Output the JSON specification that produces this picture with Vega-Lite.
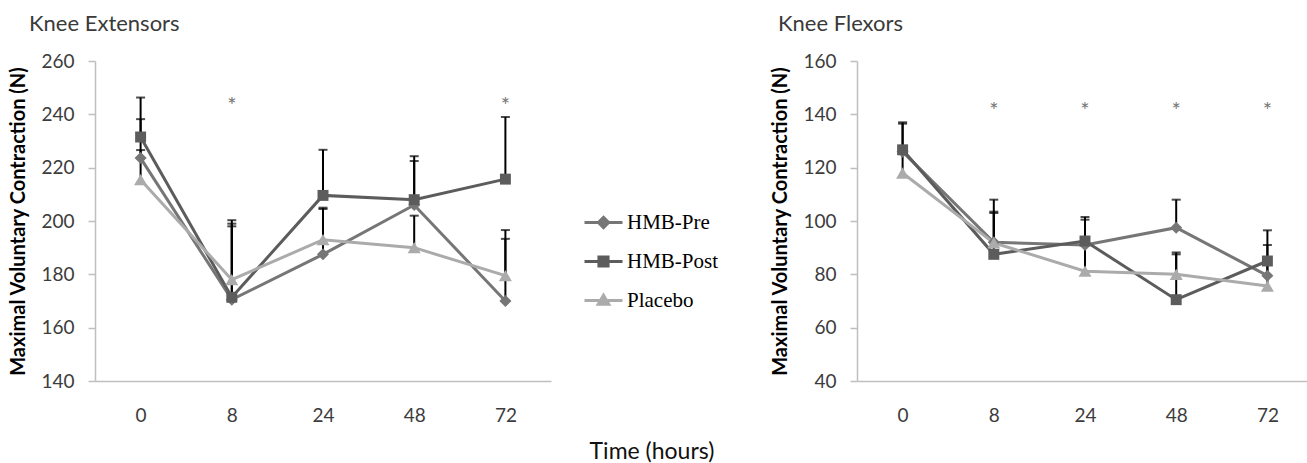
{
  "$schema": "https://vega.github.io/schema/vega-lite/v6.json",
  "padding": {"left": 8, "top": 13, "right": 0, "bottom": 0},
  "background": "white",
  "datasets": {
    "ext": [
      {"series": "HMB-Pre", "hours": 0, "value": 223.6, "upper": 238.2},
      {"series": "HMB-Pre", "hours": 8, "value": 170.5, "upper": 199},
      {"series": "HMB-Pre", "hours": 24, "value": 187.5, "upper": 205},
      {"series": "HMB-Pre", "hours": 48, "value": 206, "upper": 222.5},
      {"series": "HMB-Pre", "hours": 72, "value": 170, "upper": 193.3},
      {"series": "HMB-Post", "hours": 0, "value": 231.5, "upper": 246.3},
      {"series": "HMB-Post", "hours": 8, "value": 171.4, "upper": 200.3},
      {"series": "HMB-Post", "hours": 24, "value": 209.6, "upper": 226.7},
      {"series": "HMB-Post", "hours": 48, "value": 208, "upper": 224.3},
      {"series": "HMB-Post", "hours": 72, "value": 215.7, "upper": 239},
      {"series": "Placebo", "hours": 0, "value": 215.5, "upper": 226.6},
      {"series": "Placebo", "hours": 8, "value": 178, "upper": 198},
      {"series": "Placebo", "hours": 24, "value": 193, "upper": 204.5},
      {"series": "Placebo", "hours": 48, "value": 190, "upper": 202},
      {"series": "Placebo", "hours": 72, "value": 179.5, "upper": 196.6}
    ],
    "flex": [
      {"series": "HMB-Pre", "hours": 0, "value": 126, "upper": 136.5},
      {"series": "HMB-Pre", "hours": 8, "value": 92, "upper": 108},
      {"series": "HMB-Pre", "hours": 24, "value": 91, "upper": 100.5},
      {"series": "HMB-Pre", "hours": 48, "value": 97.5, "upper": 108},
      {"series": "HMB-Pre", "hours": 72, "value": 79.5, "upper": 91},
      {"series": "HMB-Post", "hours": 0, "value": 126.7, "upper": 137},
      {"series": "HMB-Post", "hours": 8, "value": 87.5, "upper": 103.5},
      {"series": "HMB-Post", "hours": 24, "value": 92.5, "upper": 101.5},
      {"series": "HMB-Post", "hours": 48, "value": 70.5, "upper": 88.2},
      {"series": "HMB-Post", "hours": 72, "value": 85, "upper": 96.5},
      {"series": "Placebo", "hours": 0, "value": 118, "upper": 128},
      {"series": "Placebo", "hours": 8, "value": 91.8, "upper": 103},
      {"series": "Placebo", "hours": 24, "value": 81.2, "upper": 91},
      {"series": "Placebo", "hours": 48, "value": 80, "upper": 87.5},
      {"series": "Placebo", "hours": 72, "value": 75.6, "upper": 86}
    ],
    "starsExt": [
      {"hours": 8, "y": 245.8, "label": "*"},
      {"hours": 72, "y": 245.8, "label": "*"}
    ],
    "starsFlex": [
      {"hours": 8, "y": 143.8, "label": "*"},
      {"hours": 24, "y": 143.8, "label": "*"},
      {"hours": 48, "y": 143.8, "label": "*"},
      {"hours": 72, "y": 143.8, "label": "*"}
    ]
  },
  "title": {
    "text": "Time (hours)",
    "orient": "bottom",
    "anchor": "middle",
    "font": "Lato",
    "fontSize": 23,
    "fontWeight": "normal",
    "color": "#111111",
    "offset": 16,
    "dx": -9
  },
  "config": {
    "view": {"stroke": null},
    "axis": {
      "domainColor": "#bfbfbf",
      "tickColor": "#bfbfbf",
      "domainWidth": 1.5,
      "tickWidth": 1.5,
      "labelFont": "Lato",
      "labelFontSize": 19,
      "labelColor": "#3c3c3c",
      "grid": false,
      "titleFont": "Lato",
      "titleFontWeight": "bold",
      "titleFontSize": 20,
      "titleColor": "#000000"
    },
    "title": {"font": "Lato", "fontSize": 22, "fontWeight": "normal", "color": "#3a3a3a"}
  },
  "resolve": {"scale": {"color": "independent", "shape": "independent", "size": "independent"}},
  "bounds": "flush",
  "spacing": 306,
  "hconcat": [
    {
      "width": 456,
      "height": 320,
      "title": {"text": "Knee Extensors", "anchor": "start", "frame": "group", "dx": -66, "offset": 16},
      "layer": [
        {
          "data": {"name": "ext"},
          "mark": {"type": "rule", "color": "#000000", "strokeWidth": 2},
          "encoding": {
            "x": {"field": "hours", "type": "ordinal", "scale": {"type": "point", "padding": 0.5}, "axis": {"title": null, "ticks": false, "labelPadding": 25, "labelAngle": 0}},
            "y": {"field": "value", "type": "quantitative", "scale": {"domain": [140, 260], "nice": false}, "axis": {"values": [140, 160, 180, 200, 220, 240, 260], "title": "Maximal Voluntary Contraction (N)", "tickSize": 7, "labelPadding": 14, "titlePadding": 12}},
            "y2": {"field": "upper"}
          }
        },
        {
          "data": {"name": "ext"},
          "mark": {"type": "tick", "color": "#000000", "size": 9, "thickness": 2, "orient": "horizontal"},
          "encoding": {
            "x": {"field": "hours", "type": "ordinal"},
            "y": {"field": "upper", "type": "quantitative"}
          }
        },
        {
          "data": {"name": "ext"},
          "mark": {"type": "line", "strokeWidth": 3},
          "encoding": {
            "x": {"field": "hours", "type": "ordinal"},
            "y": {"field": "value", "type": "quantitative"},
            "color": {"field": "series", "type": "nominal", "scale": {"domain": ["HMB-Pre", "HMB-Post", "Placebo"], "range": ["#767676", "#5c5c5c", "#ababab"]}}
          }
        },
        {
          "data": {"name": "ext"},
          "mark": {"type": "point", "filled": true, "opacity": 1},
          "encoding": {
            "x": {"field": "hours", "type": "ordinal"},
            "y": {"field": "value", "type": "quantitative"},
            "color": {
              "field": "series", "type": "nominal",
              "scale": {"domain": ["HMB-Pre", "HMB-Post", "Placebo"], "range": ["#767676", "#5c5c5c", "#ababab"]},
              "legend": {
                "orient": "none",
                "legendX": 488,
                "legendY": 141,
                "title": null,
                "labelFont": "Liberation Serif",
                "labelFontSize": 21,
                "labelColor": "#000000",
                "symbolSize": 1444,
                "labelOffset": 3,
                "rowPadding": 7,
                "encoding": {
                  "symbols": {
                    "shape": {"value": {"expr": "datum.value === 'HMB-Pre' ? 'M-1,0H1M0,-0.27L0.27,0L0,0.27L-0.27,0Z' : datum.value === 'HMB-Post' ? 'M-1,0H1M-0.24,-0.24H0.24V0.24H-0.24Z' : 'M-1,0H1M0,-0.28L0.28,0.2L-0.28,0.2Z'"}},
                    "strokeWidth": {"value": 3},
                    "size": {"value": 1444},
                    "opacity": {"value": 1}
                  }
                }
              }
            },
            "shape": {"field": "series", "type": "nominal", "scale": {"domain": ["HMB-Post", "HMB-Pre", "Placebo"], "range": ["square", "diamond", "triangle-up"]}, "legend": null},
            "size": {"field": "series", "type": "nominal", "scale": {"domain": ["Placebo", "HMB-Pre", "HMB-Post"], "range": [170, 120, 220]}, "legend": null}
          }
        },
        {
          "data": {"name": "starsExt"},
          "mark": {"type": "text", "fontSize": 22, "font": "Lato", "color": "#777777", "dy": 7},
          "encoding": {
            "x": {"field": "hours", "type": "ordinal"},
            "y": {"field": "y", "type": "quantitative"},
            "text": {"field": "label"}
          }
        }
      ]
    },
    {
      "width": 456,
      "height": 320,
      "title": {"text": "Knee Flexors", "anchor": "start", "frame": "group", "dx": -79, "offset": 16},
      "layer": [
        {
          "data": {"name": "flex"},
          "mark": {"type": "rule", "color": "#000000", "strokeWidth": 2},
          "encoding": {
            "x": {"field": "hours", "type": "ordinal", "scale": {"type": "point", "padding": 0.5}, "axis": {"title": null, "ticks": false, "labelPadding": 25, "labelAngle": 0}},
            "y": {"field": "value", "type": "quantitative", "scale": {"domain": [40, 160], "nice": false}, "axis": {"values": [40, 60, 80, 100, 120, 140, 160], "title": "Maximal Voluntary Contraction (N)", "tickSize": 7, "labelPadding": 14, "titlePadding": 12}},
            "y2": {"field": "upper"}
          }
        },
        {
          "data": {"name": "flex"},
          "mark": {"type": "tick", "color": "#000000", "size": 9, "thickness": 2, "orient": "horizontal"},
          "encoding": {
            "x": {"field": "hours", "type": "ordinal"},
            "y": {"field": "upper", "type": "quantitative"}
          }
        },
        {
          "data": {"name": "flex"},
          "mark": {"type": "line", "strokeWidth": 3},
          "encoding": {
            "x": {"field": "hours", "type": "ordinal"},
            "y": {"field": "value", "type": "quantitative"},
            "color": {"field": "series", "type": "nominal", "scale": {"domain": ["HMB-Pre", "HMB-Post", "Placebo"], "range": ["#767676", "#5c5c5c", "#ababab"]}, "legend": null}
          }
        },
        {
          "data": {"name": "flex"},
          "mark": {"type": "point", "filled": true, "opacity": 1},
          "encoding": {
            "x": {"field": "hours", "type": "ordinal"},
            "y": {"field": "value", "type": "quantitative"},
            "color": {"field": "series", "type": "nominal", "scale": {"domain": ["HMB-Pre", "HMB-Post", "Placebo"], "range": ["#767676", "#5c5c5c", "#ababab"]}, "legend": null},
            "shape": {"field": "series", "type": "nominal", "scale": {"domain": ["HMB-Post", "HMB-Pre", "Placebo"], "range": ["square", "diamond", "triangle-up"]}, "legend": null},
            "size": {"field": "series", "type": "nominal", "scale": {"domain": ["Placebo", "HMB-Pre", "HMB-Post"], "range": [170, 120, 220]}, "legend": null}
          }
        },
        {
          "data": {"name": "starsFlex"},
          "mark": {"type": "text", "fontSize": 22, "font": "Lato", "color": "#777777", "dy": 7},
          "encoding": {
            "x": {"field": "hours", "type": "ordinal"},
            "y": {"field": "y", "type": "quantitative"},
            "text": {"field": "label"}
          }
        }
      ]
    }
  ]
}
